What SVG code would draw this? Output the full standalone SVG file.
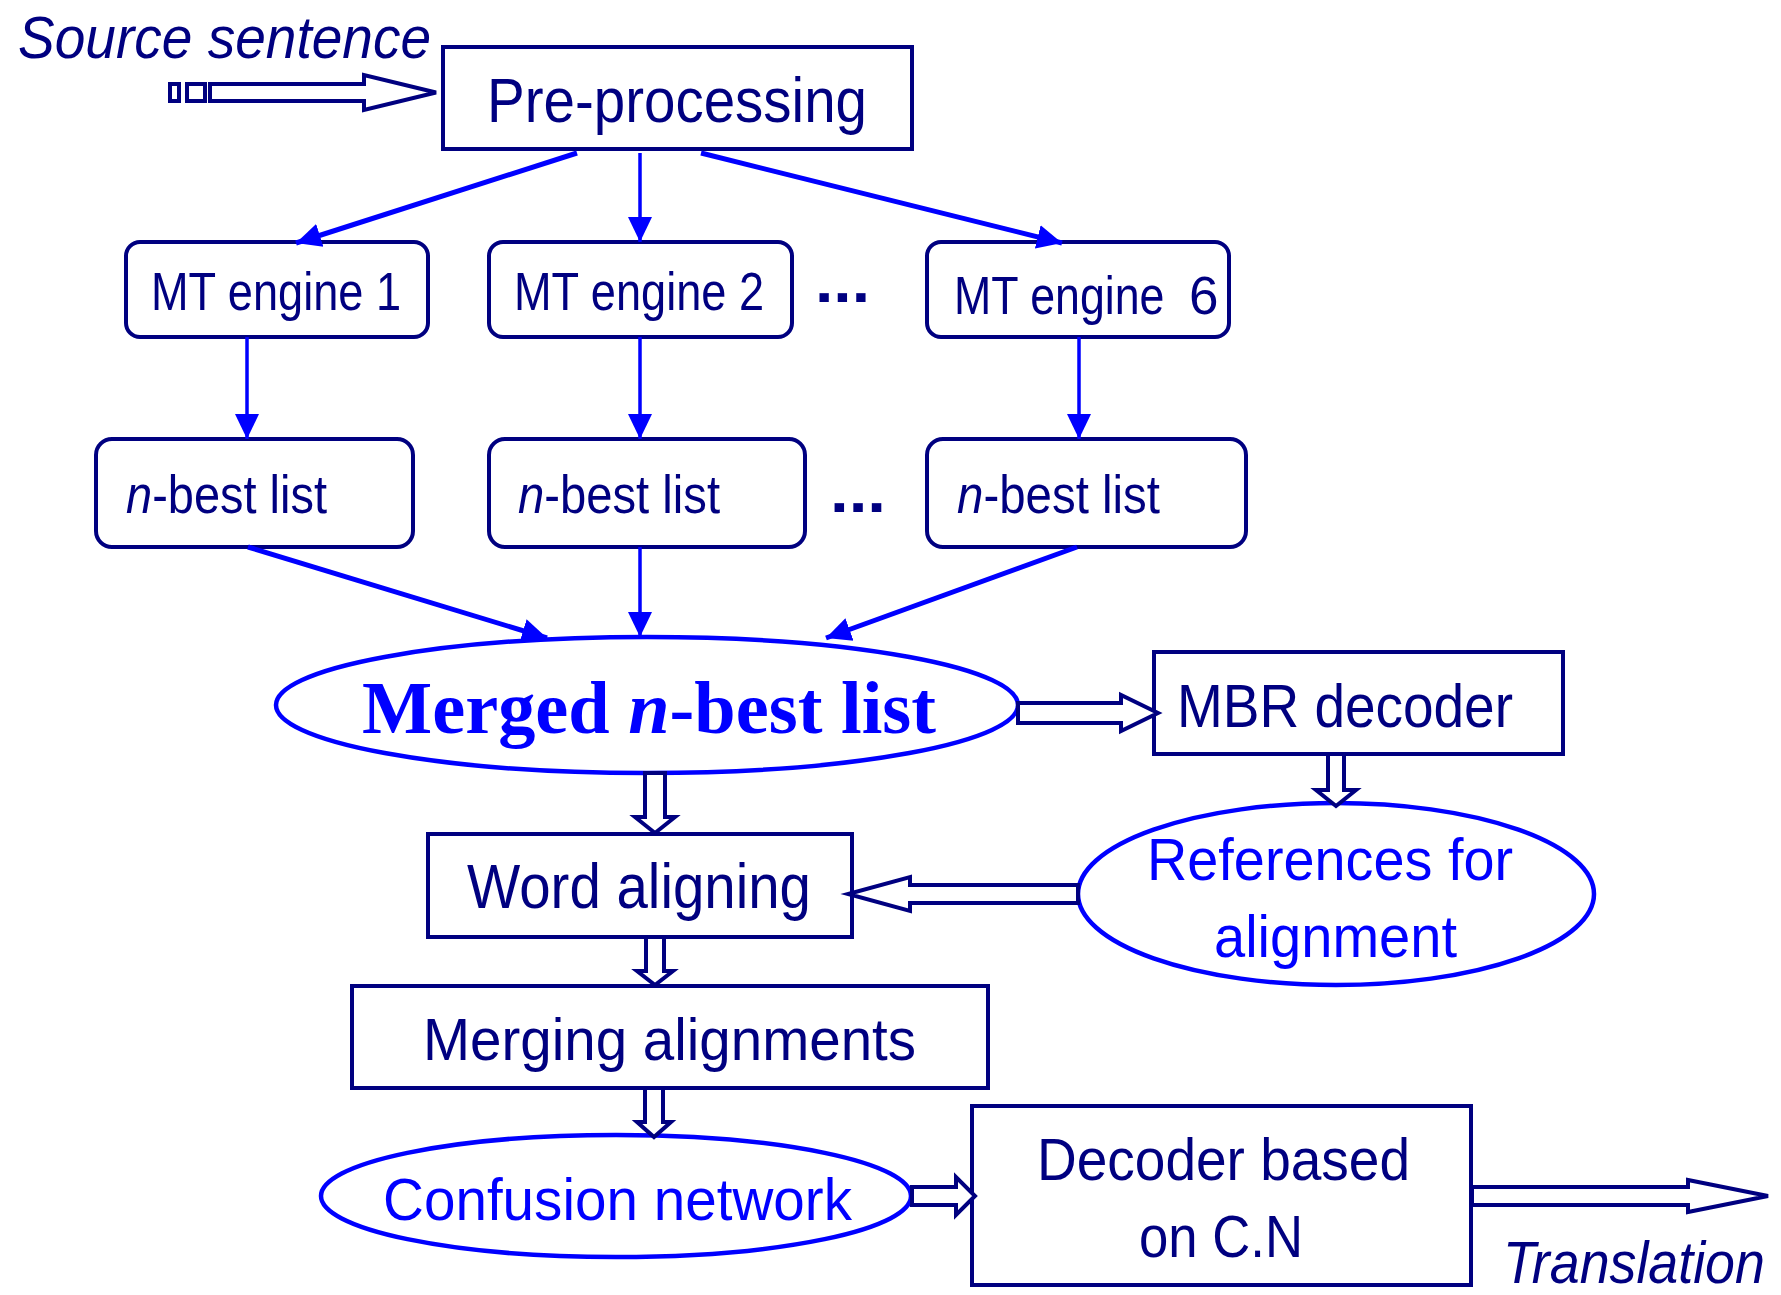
<svg xmlns="http://www.w3.org/2000/svg" width="1781" height="1295" viewBox="0 0 1781 1295">
  <style>
    .box { fill: #ffffff; stroke: #000080; stroke-width: 4; }
    .oval { fill: #ffffff; stroke: #0000ff; stroke-width: 4.5; }
    .hollow { fill: #ffffff; stroke: #000080; stroke-width: 4; stroke-linejoin: miter; }
    .flow { stroke: #0000ff; stroke-width: 3.5; fill: none; marker-end: url(#head); }
    .flow.wide { stroke-width: 5; }
    .lbl { font-family: "Liberation Sans Narrow", "Liberation Sans", Arial, sans-serif; fill: #000080; }
    .lbl.blue { fill: #0000ff; }
    .it { font-style: italic; }
    .serif { font-family: "Liberation Serif", "Times New Roman", serif; font-weight: bold; fill: #0000ff; }
  </style>
  <defs>
    <marker id="head" markerUnits="userSpaceOnUse" markerWidth="26" markerHeight="26" viewBox="0 0 26 24" refX="25" refY="12" orient="auto">
      <path d="M0,0 L25,12 L0,24 Z" fill="#0000ff"/>
    </marker>
  </defs>

  <!-- input label and source arrow -->
  <text class="lbl it" x="18" y="58" font-size="60" textLength="413" lengthAdjust="spacingAndGlyphs">Source sentence</text>
  <g id="source-arrow">
    <rect class="hollow" x="170" y="84" width="9" height="17"/>
    <rect class="hollow" x="187" y="84" width="18" height="17"/>
    <polygon class="hollow" points="210,84 364,84 364,75 436,92.5 364,110 364,101 210,101"/>
  </g>

  <g id="preprocessing">
    <rect class="box" x="443" y="47" width="469" height="102"/>
    <text class="lbl" x="487" y="122" font-size="63" textLength="380" lengthAdjust="spacingAndGlyphs">Pre-processing</text>
  </g>

  <g id="engine1">
    <rect class="box" x="126" y="242" width="302" height="95" rx="14"/>
    <text class="lbl" x="151" y="310" font-size="53" textLength="250" lengthAdjust="spacingAndGlyphs">MT engine 1</text>
  </g>
  <g id="engine2">
    <rect class="box" x="489" y="242" width="303" height="95" rx="14"/>
    <text class="lbl" x="514" y="310" font-size="53" textLength="250" lengthAdjust="spacingAndGlyphs">MT engine 2</text>
  </g>
  <text class="lbl" x="815" y="302" font-size="60" font-weight="bold" textLength="55" lengthAdjust="spacingAndGlyphs">...</text>
  <g id="engine6">
    <rect class="box" x="927" y="242" width="302" height="95" rx="14"/>
    <text class="lbl" transform="translate(954,314) scale(0.844,1)" font-size="53">MT engine</text>
    <text class="lbl" x="1189" y="314" font-size="53">6</text>
  </g>

  <g id="nbest1">
    <rect class="box" x="96" y="439" width="317" height="108" rx="16"/>
    <text class="lbl" x="126" y="513" font-size="53" textLength="201" lengthAdjust="spacingAndGlyphs"><tspan class="it">n</tspan>-best list</text>
  </g>
  <g id="nbest2">
    <rect class="box" x="489" y="439" width="316" height="108" rx="16"/>
    <text class="lbl" x="518" y="513" font-size="53" textLength="202" lengthAdjust="spacingAndGlyphs"><tspan class="it">n</tspan>-best list</text>
  </g>
  <text class="lbl" x="830" y="512" font-size="60" font-weight="bold" textLength="56" lengthAdjust="spacingAndGlyphs">...</text>
  <g id="nbest3">
    <rect class="box" x="927" y="439" width="319" height="108" rx="16"/>
    <text class="lbl" x="957" y="513" font-size="53" textLength="203" lengthAdjust="spacingAndGlyphs"><tspan class="it">n</tspan>-best list</text>
  </g>

  <g id="merged">
    <ellipse class="oval" cx="647" cy="705" rx="371" ry="68"/>
    <text class="serif" x="362" y="733" font-size="75" textLength="574" lengthAdjust="spacingAndGlyphs">Merged <tspan font-style="italic">n</tspan>-best list</text>
  </g>

  <g id="mbr">
    <rect class="box" x="1154" y="652" width="409" height="102"/>
    <text class="lbl" x="1177" y="727" font-size="61" textLength="336" lengthAdjust="spacingAndGlyphs">MBR decoder</text>
  </g>

  <g id="references">
    <ellipse class="oval" cx="1336" cy="894" rx="258" ry="91"/>
    <text class="lbl blue" x="1147" y="880" font-size="60" textLength="366" lengthAdjust="spacingAndGlyphs">References for</text>
    <text class="lbl blue" x="1214" y="957" font-size="60" textLength="243" lengthAdjust="spacingAndGlyphs">alignment</text>
  </g>

  <g id="word-aligning">
    <rect class="box" x="428" y="834" width="424" height="103"/>
    <text class="lbl" x="467" y="908" font-size="63" textLength="344" lengthAdjust="spacingAndGlyphs">Word aligning</text>
  </g>

  <g id="merging-alignments">
    <rect class="box" x="352" y="986" width="636" height="102"/>
    <text class="lbl" x="423" y="1060" font-size="60" textLength="493" lengthAdjust="spacingAndGlyphs">Merging alignments</text>
  </g>

  <g id="confusion">
    <ellipse class="oval" cx="616" cy="1196" rx="295" ry="61"/>
    <text class="lbl blue" x="383" y="1220" font-size="60" textLength="469" lengthAdjust="spacingAndGlyphs">Confusion network</text>
  </g>

  <g id="decoder">
    <rect class="box" x="972" y="1106" width="499" height="179"/>
    <text class="lbl" x="1037" y="1180" font-size="60" textLength="373" lengthAdjust="spacingAndGlyphs">Decoder based</text>
    <text class="lbl" x="1139" y="1257" font-size="60" textLength="164" lengthAdjust="spacingAndGlyphs">on C.N</text>
  </g>

  <text class="lbl it" transform="translate(1503,1283) scale(0.896,1)" font-size="60">Translation</text>

  <g id="connectors">
    <!-- thin blue flow arrows -->
    <line class="flow wide" x1="577" y1="153" x2="296" y2="243"/>
    <line class="flow" x1="640" y1="153" x2="640" y2="242"/>
    <line class="flow wide" x1="701" y1="153" x2="1062" y2="243"/>
    <line class="flow" x1="247" y1="337" x2="247" y2="439"/>
    <line class="flow" x1="640" y1="337" x2="640" y2="439"/>
    <line class="flow" x1="1079" y1="337" x2="1079" y2="439"/>
    <line class="flow wide" x1="248" y1="547" x2="547" y2="638"/>
    <line class="flow" x1="640" y1="547" x2="640" y2="637"/>
    <line class="flow wide" x1="1077" y1="547" x2="826" y2="638"/>

    <!-- hollow block arrows -->
    <polygon class="hollow" points="1018,703 1121,703 1121,695 1158,713 1121,731 1121,723 1018,723"/>
    <polygon class="hollow" points="1328,754 1344,754 1344,790 1356,790 1336,806 1316,790 1328,790"/>
    <polygon class="hollow" points="645,773 665,773 665,817 675,817 655,833 635,817 645,817"/>
    <polygon class="hollow" points="1078,885 910,885 910,877 848,894 910,911 910,903 1078,903"/>
    <polygon class="hollow" points="646,937 664,937 664,971 673,971 655,985 637,971 646,971"/>
    <polygon class="hollow" points="645,1088 663,1088 663,1122 671,1122 654,1137 637,1122 645,1122"/>
    <polygon class="hollow" points="912,1187 956,1187 956,1177 975,1196 956,1215 956,1205 912,1205"/>
    <polygon class="hollow" points="1472,1187 1688,1187 1688,1180 1768,1196 1688,1212 1688,1205 1472,1205"/>
  </g>
</svg>
